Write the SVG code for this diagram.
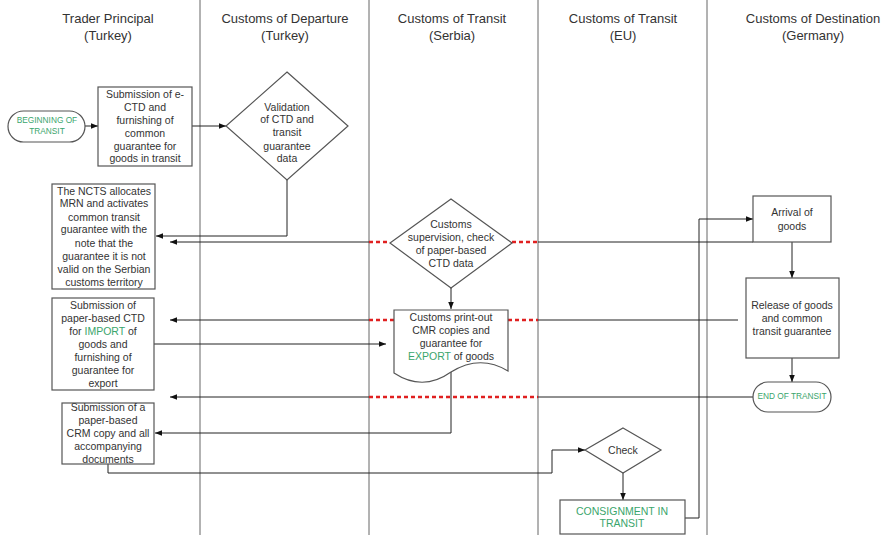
<svg xmlns="http://www.w3.org/2000/svg" width="884" height="535" viewBox="0 0 884 535">
<defs>
<marker id="arr" viewBox="0 0 10 10" refX="10" refY="5" markerWidth="7" markerHeight="7" orient="auto" markerUnits="userSpaceOnUse"><path d="M0,1 L10,5 L0,9 z" fill="#111"/></marker>
<style>
.lane{stroke:#666;stroke-width:1;fill:none}
.hd{font-family:"Liberation Sans",Arial,sans-serif;font-size:13px;fill:#333;text-anchor:middle}
.box{fill:#fff;stroke:#555;stroke-width:1.2}
.t{font-family:"Liberation Sans",Arial,sans-serif;font-size:10.5px;fill:#333;text-anchor:middle}
.g{fill:#3aa56c}
.ts{font-family:"Liberation Sans",Arial,sans-serif;font-size:8.3px;fill:#3aa56c;text-anchor:middle}
.c{fill:none;stroke:#222;stroke-width:1}
.ca{fill:none;stroke:#222;stroke-width:1;marker-end:url(#arr)}
.red{fill:none;stroke:#e02020;stroke-width:2.5;stroke-dasharray:4 3}
</style>
</defs>
<rect width="884" height="535" fill="#fff"/>
<g id="lanes">
<line class="lane" x1="200" y1="0" x2="200" y2="535"/>
<line class="lane" x1="369" y1="0" x2="369" y2="535"/>
<line class="lane" x1="538" y1="0" x2="538" y2="535"/>
<line class="lane" x1="707" y1="0" x2="707" y2="535"/>
<text class="hd" x="108" y="23">Trader Principal</text>
<text class="hd" x="108" y="40">(Turkey)</text>
<text class="hd" x="285" y="23">Customs of Departure</text>
<text class="hd" x="285" y="40">(Turkey)</text>
<text class="hd" x="452" y="23">Customs of Transit</text>
<text class="hd" x="452" y="40">(Serbia)</text>
<text class="hd" x="623" y="23">Customs of Transit</text>
<text class="hd" x="623" y="40">(EU)</text>
<text class="hd" x="813" y="23">Customs of Destination</text>
<text class="hd" x="813" y="40">(Germany)</text>
</g>
<g id="connectors">
<line class="ca" x1="85" y1="126" x2="98" y2="126"/>
<line class="ca" x1="192" y1="126" x2="226" y2="126"/>
<polyline class="ca" points="287,180 287,236 156,236"/>
<line class="c" x1="753" y1="242" x2="538" y2="242"/>
<line class="ca" x1="369" y1="242" x2="170" y2="242"/>
<line class="red" x1="369" y1="242" x2="390" y2="242"/>
<line class="red" x1="512" y1="242" x2="538" y2="242"/>
<line class="c" x1="738" y1="320" x2="538" y2="320"/>
<line class="ca" x1="369" y1="320" x2="170" y2="320"/>
<line class="red" x1="369" y1="320" x2="394" y2="320"/>
<line class="red" x1="508" y1="320" x2="538" y2="320"/>
<line class="ca" x1="154" y1="344" x2="386" y2="344"/>
<line class="c" x1="753" y1="397" x2="538" y2="397"/>
<line class="ca" x1="369" y1="397" x2="170" y2="397"/>
<line class="red" x1="369" y1="397" x2="538" y2="397"/>
<polyline class="ca" points="451,372 451,433 155,433"/>
<polyline class="ca" points="108,464 108,473 552,473 552,450 585,450"/>
<line class="ca" x1="623" y1="473" x2="623" y2="500"/>
<polyline class="ca" points="685,518 699,518 699,219 753,219"/>
<line class="ca" x1="792" y1="242" x2="792" y2="278"/>
<line class="ca" x1="792" y1="358" x2="792" y2="382"/>
</g>
<g id="begin">
<rect class="box" x="8" y="111" width="77" height="31" rx="15.5"/>
<text class="ts" x="47" y="123">BEGINNING OF</text>
<text class="ts" x="47" y="134">TRANSIT</text>
</g>
<g id="submit-ectd">
<rect class="box" x="98" y="87" width="94" height="79"/>
<text class="t" x="145" y="98">Submission of e-</text>
<text class="t" x="145" y="111">CTD and</text>
<text class="t" x="145" y="124">furnishing of</text>
<text class="t" x="145" y="137">common</text>
<text class="t" x="145" y="150">guarantee for</text>
<text class="t" x="145" y="162">goods in transit</text>
</g>
<g id="validation">
<polygon class="box" points="287,72 348,126 287,180 226,126"/>
<text class="t" x="287" y="111">Validation</text>
<text class="t" x="287" y="123">of CTD  and</text>
<text class="t" x="287" y="136">transit</text>
<text class="t" x="287" y="150">guarantee</text>
<text class="t" x="287" y="162">data</text>
</g>
<g id="ncts">
<rect class="box" x="52" y="184" width="103" height="105"/>
<text class="t" x="104" y="195">The NCTS allocates</text>
<text class="t" x="104" y="207">MRN and activates</text>
<text class="t" x="104" y="221">common transit</text>
<text class="t" x="104" y="233">guarantee with the</text>
<text class="t" x="104" y="247">note that the</text>
<text class="t" x="104" y="260">guarantee it is not</text>
<text class="t" x="104" y="273">valid on the Serbian</text>
<text class="t" x="104" y="286">customs territory</text>
</g>
<g id="paper-ctd">
<rect class="box" x="52" y="298" width="102" height="92"/>
<text class="t" x="103" y="309">Submission of</text>
<text class="t" x="103" y="322">paper-based CTD</text>
<text class="t" x="103" y="335">for <tspan class="g">IMPORT</tspan> of</text>
<text class="t" x="103" y="348">goods and</text>
<text class="t" x="103" y="361">furnishing of</text>
<text class="t" x="103" y="374">guarantee  for</text>
<text class="t" x="103" y="387">export</text>
</g>
<g id="crm">
<rect class="box" x="62" y="403" width="92" height="61"/>
<text class="t" x="108" y="411">Submission of a</text>
<text class="t" x="108" y="424">paper-based</text>
<text class="t" x="108" y="437">CRM copy and all</text>
<text class="t" x="108" y="450">accompanying</text>
<text class="t" x="108" y="463">documents</text>
</g>
<g id="supervision">
<polygon class="box" points="451,199 512,243 451,288 390,243"/>
<text class="t" x="451" y="228">Customs</text>
<text class="t" x="451" y="241">supervision, check</text>
<text class="t" x="451" y="254">of paper-based</text>
<text class="t" x="451" y="267">CTD data</text>
</g>
<g id="printout">
<path class="box" d="M394,310 H508 V371 Q480,354 451,372 Q423,392 394,373 Z"/>
<text class="t" x="451" y="321">Customs print-out</text>
<text class="t" x="451" y="334">CMR copies and</text>
<text class="t" x="451" y="347">guarantee for</text>
<text class="t" x="451" y="360"><tspan class="g">EXPORT</tspan> of goods</text>
</g>
<line class="ca" x1="451" y1="288" x2="451" y2="309"/>
<g id="check">
<polygon class="box" points="623,428 661,450 623,473 585,450"/>
<text class="t" x="623" y="454">Check</text>
</g>
<g id="consignment">
<rect class="box" x="560" y="500" width="125" height="34"/>
<text class="t g" x="622" y="515">CONSIGNMENT IN</text>
<text class="t g" x="622" y="527">TRANSIT</text>
</g>
<g id="arrival">
<rect class="box" x="753" y="196" width="78" height="46"/>
<text class="t" x="792" y="216">Arrival of</text>
<text class="t" x="792" y="230">goods</text>
</g>
<g id="release">
<rect class="box" x="746" y="278" width="93" height="80"/>
<text class="t" x="792" y="309">Release of goods</text>
<text class="t" x="792" y="322">and common</text>
<text class="t" x="792" y="335">transit guarantee</text>
</g>
<g id="end">
<rect class="box" x="753" y="382" width="78" height="30" rx="15"/>
<text class="ts" x="792" y="399">END OF TRANSIT</text>
</g>
</svg>
